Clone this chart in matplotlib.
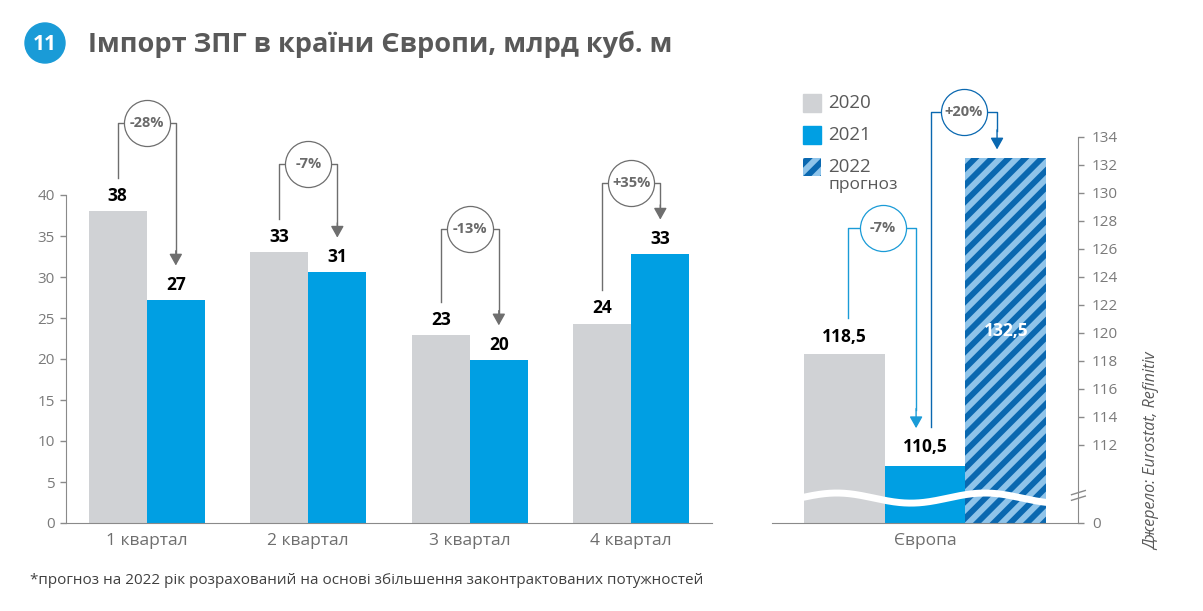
import numpy as np
import matplotlib
matplotlib.use("Agg")
import matplotlib.pyplot as plt
from matplotlib.patches import Ellipse, Rectangle

plt.rcParams['font.family'] = ['Open Sans', 'DejaVu Sans']
plt.rcParams['hatch.linewidth'] = 4.2

# data
quarters = ["1 квартал", "2 квартал", "3 квартал", "4 квартал"]
q2020 = [38.0, 33.0, 22.9, 24.3]
q2021 = [27.2, 30.6, 19.9, 32.8]
q2020_labels = ["38", "33", "23", "24"]
q2021_labels = ["27", "31", "20", "33"]
q_changes = ["-28%", "-7%", "-13%", "+35%"]

region = "Європа"
years = ["2020", "2021", "2022\nпрогноз"]
europe = [118.5, 110.5, 132.5]
europe_labels = ["118,5", "110,5", "132,5"]
change_2021 = "-7%"
change_2022 = "+20%"

GRAY = "#D0D2D5"
BLUE = "#009FE3"
LIGHT = "#8FC4EA"
DARK = "#0A68B0"
LINE = "#6E6E6E"
TXT = "#7A7A7A"
TITLE = "#595959"

W, H = 1203, 611
fig = plt.figure(figsize=(W / 100, H / 100), dpi=100)


def box(x0, y0, x1, y1):
    # pixel box (top-left origin) -> figure fraction
    return [x0 / W, 1 - y1 / H, (x1 - x0) / W, (y1 - y0) / H]


# ---------- left chart ----------
ax = fig.add_axes(box(66, 96.6, 712, 523))
x = np.arange(len(quarters))
bw = 0.36
ax.bar(x - bw / 2, q2020, bw, color=GRAY, zorder=2)
ax.bar(x + bw / 2, q2021, bw, color=BLUE, zorder=2)
ax.set_xlim(-0.5, 3.5)
ax.set_ylim(0, 52)
ax.set_yticks(range(0, 41, 5))
ax.spines['left'].set_bounds(0, 40)
for s in ['top', 'right']:
    ax.spines[s].set_visible(False)
for s in ['left', 'bottom']:
    ax.spines[s].set_color("#8A8A8A")
ax.tick_params(axis='y', colors="#8A8A8A", labelcolor=TXT, labelsize=11, length=4.5, width=1)
ax.tick_params(axis='x', length=0, labelsize=12.5, labelcolor="#6E6E6E", pad=7)
ax.set_xticks(x)
ax.set_xticklabels(quarters)

for i in range(len(quarters)):
    ax.annotate(q2020_labels[i], (x[i] - bw / 2, q2020[i]), xytext=(0, 11), textcoords='offset points',
                ha='center', va='center', fontsize=12.5, fontweight='bold', color='black')
    ax.annotate(q2021_labels[i], (x[i] + bw / 2, q2021[i]), xytext=(0, 11), textcoords='offset points',
                ha='center', va='center', fontsize=12.5, fontweight='bold', color='black')

bracket_y = [48.8, 43.8, 35.9, 41.5]
for i in range(len(quarters)):
    gx, bx, yb = x[i] - bw / 2, x[i] + bw / 2, bracket_y[i]
    ax.plot([gx, gx, bx, bx], [q2020[i] + 4.1, yb, yb, q2021[i] + 5.5], color=LINE, lw=1, zorder=3,
            clip_on=False)
    ax.annotate("", xy=(bx, q2021[i] + 4.2), xytext=(bx, q2021[i] + 6),
                arrowprops=dict(arrowstyle='-|>,head_length=0.5,head_width=0.28', color=LINE, lw=1,
                                shrinkA=0, shrinkB=0, mutation_scale=14))
    ax.scatter([x[i]], [yb], s=1100, facecolor='white', edgecolor=LINE, linewidth=0.9, zorder=4,
               clip_on=False)
    ax.text(x[i], yb, q_changes[i], ha='center', va='center', fontsize=10.5, fontweight='bold',
            color="#6A6A6A", zorder=5)

# ---------- right chart ----------
ay = fig.add_axes(box(772, 85, 1078, 523))
y0 = 106.43
xr = np.arange(len(years))
ay.bar(xr[0], europe[0] - y0, 1.0, bottom=y0, color=GRAY, zorder=2)
ay.bar(xr[1], europe[1] - y0, 1.0, bottom=y0, color=BLUE, zorder=2)
ay.bar(xr[2], europe[2] - y0, 1.0, bottom=y0, facecolor=LIGHT, edgecolor=DARK, hatch='//', lw=0, zorder=2)
ay.set_xlim(-0.89, 2.89)
ay.set_ylim(y0, 137.7)
ay.yaxis.tick_right()
ay.set_yticks([y0] + list(range(112, 135, 2)))
ay.set_yticklabels(["0"] + [str(v) for v in range(112, 135, 2)])
ay.spines['right'].set_bounds(y0, 134)
for s in ['top', 'left']:
    ay.spines[s].set_visible(False)
for s in ['right', 'bottom']:
    ay.spines[s].set_color("#8A8A8A")
ay.tick_params(axis='y', colors="#8A8A8A", labelcolor=TXT, labelsize=11, length=4, width=1, pad=6)
ay.set_xticks([1])
ay.set_xticklabels([region])
ay.tick_params(axis='x', length=0, labelsize=12.5, labelcolor="#6E6E6E", pad=7)

# axis break: wave across bars and marks on spine
wx = np.linspace(-0.5, 2.5, 300)
ay.plot(wx, 108.21 + 0.36 * np.cos(2 * np.pi * (wx + 0.09) / 1.83), color='white', lw=5, zorder=3)
for dy in (0.0, -0.4):
    ay.plot([2.81, 2.98], [108.45 + dy, 108.75 + dy], color="#8A8A8A", lw=1, clip_on=False, zorder=3)

ay.annotate(europe_labels[0], (xr[0], europe[0]), xytext=(0, 12), textcoords='offset points',
            ha='center', va='center', fontsize=12.5, fontweight='bold', color='black')
ay.annotate(europe_labels[1], (xr[1], europe[1]), xytext=(0, 14), textcoords='offset points',
            ha='center', va='center', fontsize=12.5, fontweight='bold', color='black')
ay.text(xr[2], (y0 + europe[2]) / 2 + 0.7, europe_labels[2], ha='center', va='center', fontsize=12.5,
        fontweight='bold', color='white', zorder=4)

# -7% bracket (2020 -> 2021)
c1 = "#1A9BD7"
ay.plot([0.05, 0.05, 0.89, 0.89], [121.1, 127.5, 127.5, 114.5], color=c1, lw=1, zorder=3, clip_on=False)
ay.annotate("", xy=(0.89, 113.2), xytext=(0.89, 114.6),
            arrowprops=dict(arrowstyle='-|>,head_length=0.5,head_width=0.28', color=c1, lw=1,
                            shrinkA=0, shrinkB=0, mutation_scale=14))
ay.scatter([0.48], [127.5], s=1100, facecolor='white', edgecolor=c1, linewidth=0.9, zorder=4)
ay.text(0.48, 127.5, change_2021, ha='center', va='center', fontsize=10.5, fontweight='bold',
        color="#6A6A6A", zorder=5)

# +20% bracket (2021 -> 2022)
ay.plot([1.07, 1.07, 1.89, 1.89], [113.3, 135.8, 135.8, 134.4], color=DARK, lw=1, zorder=3, clip_on=False)
ay.annotate("", xy=(1.89, 133.1), xytext=(1.89, 134.5),
            arrowprops=dict(arrowstyle='-|>,head_length=0.5,head_width=0.28', color=DARK, lw=1,
                            shrinkA=0, shrinkB=0, mutation_scale=14))
ay.scatter([1.48], [135.8], s=1100, facecolor='white', edgecolor=DARK, linewidth=0.9, zorder=4,
           clip_on=False)
ay.text(1.48, 135.8, change_2022, ha='center', va='center', fontsize=10.5, fontweight='bold',
        color="#6A6A6A", zorder=5)

# legend
leg_rows = [103, 135, 167]
leg_style = [dict(color=GRAY), dict(color=BLUE), dict(facecolor=LIGHT, edgecolor=DARK, hatch='//', lw=0)]
for yy, lab, st in zip(leg_rows, years, leg_style):
    b = box(803, yy - 9, 821, yy + 9)
    fig.add_artist(Rectangle((b[0], b[1]), b[2], b[3], transform=fig.transFigure, **st))
    first, *rest = lab.split("\n")
    fig.text(828 / W, 1 - yy / H, first, ha='left', va='center', fontsize=13.5, color=TITLE)
    if rest:
        fig.text(828 / W, 1 - (yy + 18) / H, rest[0], ha='left', va='center', fontsize=12.5, color=TITLE)

# title and badge
fig.add_artist(Ellipse((45 / W, 1 - 43 / H), 40 / W, 40 / H, transform=fig.transFigure, color="#1A9BD7"))
fig.text(45 / W, 1 - 44 / H, "11", ha='center', va='center', fontsize=15, fontweight='bold', color='white')
fig.text(88 / W, 1 - 44 / H, "Імпорт ЗПГ в країни Європи, млрд куб. м", ha='left', va='center',
         fontsize=19.5, fontweight='bold', color=TITLE)

fig.text(30 / W, 1 - 580 / H,
         "*прогноз на 2022 рік розрахований на основі збільшення законтрактованих потужностей",
         ha='left', va='center', fontsize=11, color="#404040")
fig.text(1152 / W, 1 - 451 / H, "Джерело: Eurostat, Refinitiv", rotation=90, ha='center', va='center',
         fontsize=11.5, style='italic', color=TITLE)

fig.savefig("out.png", dpi=100)
